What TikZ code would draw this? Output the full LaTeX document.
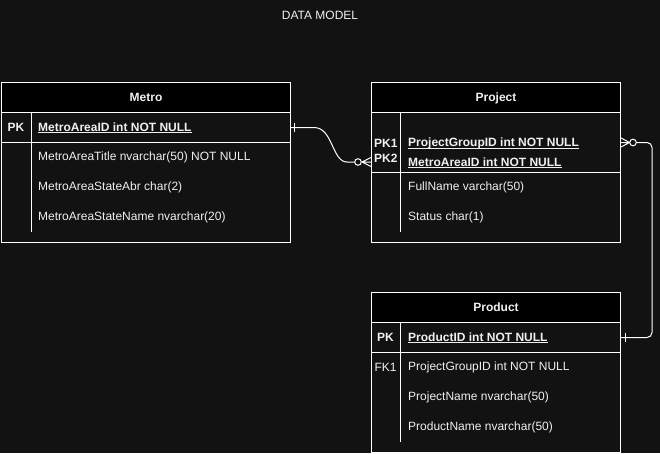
\documentclass[tikz,border=0pt]{standalone}
\usepackage{fontspec}
\setmainfont{Liberation Sans}
\usetikzlibrary{calc}
\definecolor{bgc}{HTML}{121212}
\definecolor{hdrc}{HTML}{000000}
\definecolor{txtc}{HTML}{F0F0F0}
\newcommand\myul[1]{\setbox0\hbox{#1}\rlap{\rule[-2.2pt]{\wd0}{0.8pt}}\box0}
\tikzset{
  tbl/.style={draw=white, line width=1pt, fill=bgc, inner sep=0pt, anchor=north west, minimum width=#1, minimum height=160pt},
  hdrbox/.style={draw=white, line width=1pt, fill=hdrc, inner sep=0pt, anchor=north west, minimum width=#1, minimum height=30pt, text=txtc, font=\fontsize{12}{14}\selectfont\bfseries, text depth=0pt},
  rowbox/.style={draw=white, line width=1pt, inner sep=0pt, anchor=north west, minimum width=#1},
  fld/.style={anchor=west, inner sep=0pt, text=txtc, font=\fontsize{12}{14}\selectfont, yshift=-0.8pt},
  keyt/.style={inner sep=0pt, text=txtc, font=\fontsize{12}{14}\selectfont\bfseries, yshift=-0.8pt},
  keyn/.style={inner sep=0pt, text=txtc, font=\fontsize{12}{14}\selectfont, yshift=-0.8pt},
  conn/.style={draw=white, line width=1pt},
  colline/.style={draw=white, line width=1pt},
}
\begin{document}
\begin{tikzpicture}[x=1pt,y=-1pt]
\fill[bgc] (0,0) rectangle (660,453);
\useasboundingbox (0,0) rectangle (660,453);

\node[fld, anchor=center] (title) at (320,15) {DATA MODEL};

% Metro
\node[tbl=289pt] (metro) at (1,82) {};
\node[hdrbox=289pt] (metroH) at (1,82) {Metro};
\node[rowbox=289pt, minimum height=30pt] (metroPK) at (1,112) {};
\draw[colline] (31,112) -- (31,232);
\node[keyt] (metroPKk) at (16,127) {PK};
\node[fld] (metroF1) at (38,127) {\bfseries\myul{MetroAreaID int NOT NULL}};
\node[fld] (metroF2) at (38,157) {MetroAreaTitle nvarchar(50) NOT NULL};
\node[fld] (metroF3) at (38,187) {MetroAreaStateAbr char(2)};
\node[fld] (metroF4) at (38,217) {MetroAreaStateName nvarchar(20)};

% Project
\node[tbl=249pt] (proj) at (371,82) {};
\node[hdrbox=249pt] (projH) at (371,82) {Project};
\node[rowbox=249pt, minimum height=60pt] (projPK) at (371,112) {};
\draw[colline] (400,112) -- (400,232);
\node[keyt, anchor=west] (projK1) at (374,142.5) {PK1};
\node[keyt, anchor=west] (projK2) at (374,157.5) {PK2};
\node[fld] (projF1) at (408,142.5) {\bfseries\myul{ProjectGroupID int NOT NULL}};
\node[fld] (projF2) at (408,162) {\bfseries\myul{MetroAreaID int NOT NULL}};
\node[fld] (projF3) at (408,187) {FullName varchar(50)};
\node[fld] (projF4) at (408,217) {Status char(1)};

% Product
\node[tbl=249pt] (prod) at (371,292) {};
\node[hdrbox=249pt] (prodH) at (371,292) {Product};
\node[rowbox=249pt, minimum height=30pt] (prodPK) at (371,322) {};
\draw[colline] (400.5,322) -- (400.5,442);
\node[keyt] (prodPKk) at (385.5,337) {PK};
\node[keyn] (prodFKk) at (385.5,367) {FK1};
\node[fld] (prodF1) at (408,337) {\bfseries\myul{ProductID int NOT NULL}};
\node[fld] (prodF2) at (408,367) {ProjectGroupID int NOT NULL};
\node[fld] (prodF3) at (408,397) {ProjectName nvarchar(50)};
\node[fld] (prodF4) at (408,427) {ProductName nvarchar(50)};

% connector Metro -> Project
\coordinate (c1a) at (metroPK.east);
\coordinate (c1b) at (proj.west |- 0,162);
\draw[conn] (c1a) -- ($(c1a)+(23,0)$) .. controls ($(c1a)+(42,0)$) and ($(c1b)+(-39,0)$) .. ($(c1b)+(-24,0)$) -- ($(c1b)+(-16.3,0)$);
\draw[conn] ($(c1a)+(3.5,-4.5)$) -- ($(c1a)+(3.5,4.5)$);
\draw[conn, fill=bgc] ($(c1b)+(-13,0)$) circle (3.3pt);
\draw[conn] ($(c1b)+(-9,0)$) -- ($(c1b)+(0,-4.5)$)
            ($(c1b)+(-9,0)$) -- (c1b)
            ($(c1b)+(-9,0)$) -- ($(c1b)+(0,4.5)$);

% connector Project -> Product
\coordinate (c2a) at (proj.east |- 0,142.5);
\coordinate (c2b) at (prodPK.east);
\draw[conn, rounded corners=5pt] ($(c2a)+(15.3,0)$) -- ($(c2a)+(31,0)$) -- ($(c2b)+(31,0)$) -- (c2b);
\draw[conn, fill=bgc] ($(c2a)+(12,0)$) circle (3.3pt);
\draw[conn] ($(c2a)+(8.5,0)$) -- ($(c2a)+(0,-4.5)$)
            ($(c2a)+(8.5,0)$) -- (c2a)
            ($(c2a)+(8.5,0)$) -- ($(c2a)+(0,4.5)$);
\draw[conn] ($(c2b)+(4,-4.5)$) -- ($(c2b)+(4,4.5)$);
\end{tikzpicture}
\end{document}
